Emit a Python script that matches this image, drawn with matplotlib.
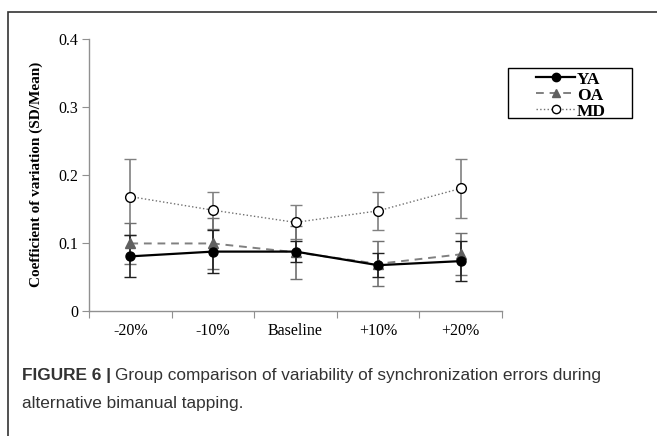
import matplotlib
matplotlib.use('Agg')
import matplotlib.pyplot as plt
from matplotlib.patches import Rectangle
from matplotlib.lines import Line2D
import numpy as np

categories = ['-20%', '-10%', 'Baseline', '+10%', '+20%']

ya_mean = [0.080, 0.087, 0.087, 0.067, 0.073]
ya_err = [0.031, 0.032, 0.016, 0.018, 0.030]
oa_mean = [0.099, 0.099, 0.086, 0.069, 0.083]
oa_err = [0.030, 0.037, 0.039, 0.033, 0.031]
md_mean = [0.168, 0.148, 0.130, 0.147, 0.180]
md_err = [0.056, 0.027, 0.025, 0.028, 0.043]

group_names = ['YA', 'OA', 'MD']

serif = ['Liberation Serif', 'DejaVu Serif']
sans = ['Liberation Sans', 'DejaVu Sans']

# line styles per group (YA, OA, MD)
styles = [
    dict(linestyle='-', color='black', linewidth=1.6, marker='o', markersize=6.5,
         markerfacecolor='black', markeredgecolor='black'),
    dict(linestyle=(0, (4, 3)), color='#808080', linewidth=1.4, marker='^', markersize=7,
         markerfacecolor='#606060', markeredgecolor='#606060'),
    dict(linestyle=':', color='#707070', linewidth=1.0, marker='o', markersize=7,
         markerfacecolor='white', markeredgecolor='black', markeredgewidth=1.0),
]

fig = plt.figure(figsize=(6.57, 4.36), dpi=100)
ax = fig.add_axes([89/657, 1-310.7/436, (502-89)/657, (310.7-39)/436])

x = np.arange(len(categories)) + 0.5

# error bars first, then lines on top
ax.errorbar(x, md_mean, yerr=md_err, fmt='none', ecolor='#808080', elinewidth=1.2, capsize=4, capthick=1.0, zorder=2)
ax.errorbar(x, oa_mean, yerr=oa_err, fmt='none', ecolor='#707070', elinewidth=1.2, capsize=4, capthick=1.0, zorder=2)
ax.errorbar(x, ya_mean, yerr=ya_err, fmt='none', ecolor='#202020', elinewidth=1.2, capsize=4, capthick=1.0, zorder=3)

ax.plot(x, md_mean, zorder=4, **styles[2])
ax.plot(x, oa_mean, zorder=4, **styles[1])
ax.plot(x, ya_mean, zorder=5, **styles[0])

ax.set_xlim(0, 5)
ax.set_ylim(0, 0.4)
ax.set_yticks([0, 0.1, 0.2, 0.3, 0.4])
ax.set_yticklabels(['0', '0.1', '0.2', '0.3', '0.4'], fontfamily=serif, fontsize=11.5)
ax.set_xticks(np.arange(0, 6))
ax.set_xticklabels([])
ax.set_xticks(x, minor=True)
ax.set_xticklabels(categories, minor=True, fontfamily=serif, fontsize=11.5)
ax.tick_params(axis='x', which='minor', length=0, pad=9)
ax.tick_params(axis='x', which='major', length=5, color='#909090', direction='out')
ax.tick_params(axis='y', length=5, color='#909090', direction='out', pad=3)

for s in ['top', 'right']:
    ax.spines[s].set_visible(False)
for s in ['left', 'bottom']:
    ax.spines[s].set_color('#909090')
    ax.spines[s].set_linewidth(1.0)

ax.set_ylabel('Coefficient of variation (SD/Mean)', fontfamily=serif, fontsize=11,
              fontweight='bold', labelpad=11)

# legend box drawn by hand (Excel style: handles pushed to the right)
def fx(px):
    return px / 657

def fy(py):
    return 1 - py / 436

fig.patches.append(Rectangle((fx(508), fy(118)), fx(632) - fx(508), fy(68) - fy(118),
                             transform=fig.transFigure, fill=True, facecolor='white',
                             edgecolor='black', linewidth=1.0, zorder=5))
rows = [77.0, 93.5, 109.5]
for name, st, ry in zip(group_names, styles, rows):
    st = dict(st)
    mk = st.pop('marker')
    st.pop('markersize')
    mfc = st.pop('markerfacecolor')
    mec = st.pop('markeredgecolor')
    st.pop('markeredgewidth', None)
    fig.lines.append(Line2D([fx(536), fx(575)], [fy(ry), fy(ry)], transform=fig.transFigure,
                            zorder=6, **st))
    fig.lines.append(Line2D([fx(555.5)], [fy(ry)], transform=fig.transFigure, marker=mk,
                            markersize=6, markerfacecolor=mfc, markeredgecolor=mec,
                            linestyle='none', zorder=7))
    fig.text(fx(577), fy(ry + 1), name, fontfamily=serif, fontweight='bold', fontsize=12.5,
             va='center_baseline', ha='left', zorder=7)

# outer frame around the figure
fig.patches.append(Rectangle((8/657, -0.05), 1.2, 1-12/436+0.05, transform=fig.transFigure,
                             fill=False, edgecolor='#333333', linewidth=1.2))

# caption
t1 = fig.text(22/657, 1-375/436, 'FIGURE 6 |', fontfamily=sans, fontweight='bold',
              fontsize=12.4, color='#333333', va='center')
fig.canvas.draw()
bb = t1.get_window_extent()
fig.text((bb.x1 + 4)/657, 1-375/436, 'Group comparison of variability of synchronization errors during',
         fontfamily=sans, fontsize=12.4, color='#333333', va='center')
fig.text(22/657, 1-403/436, 'alternative bimanual tapping.', fontfamily=sans, fontsize=12.4,
         color='#333333', va='center')

fig.savefig('out.png', dpi=100)
